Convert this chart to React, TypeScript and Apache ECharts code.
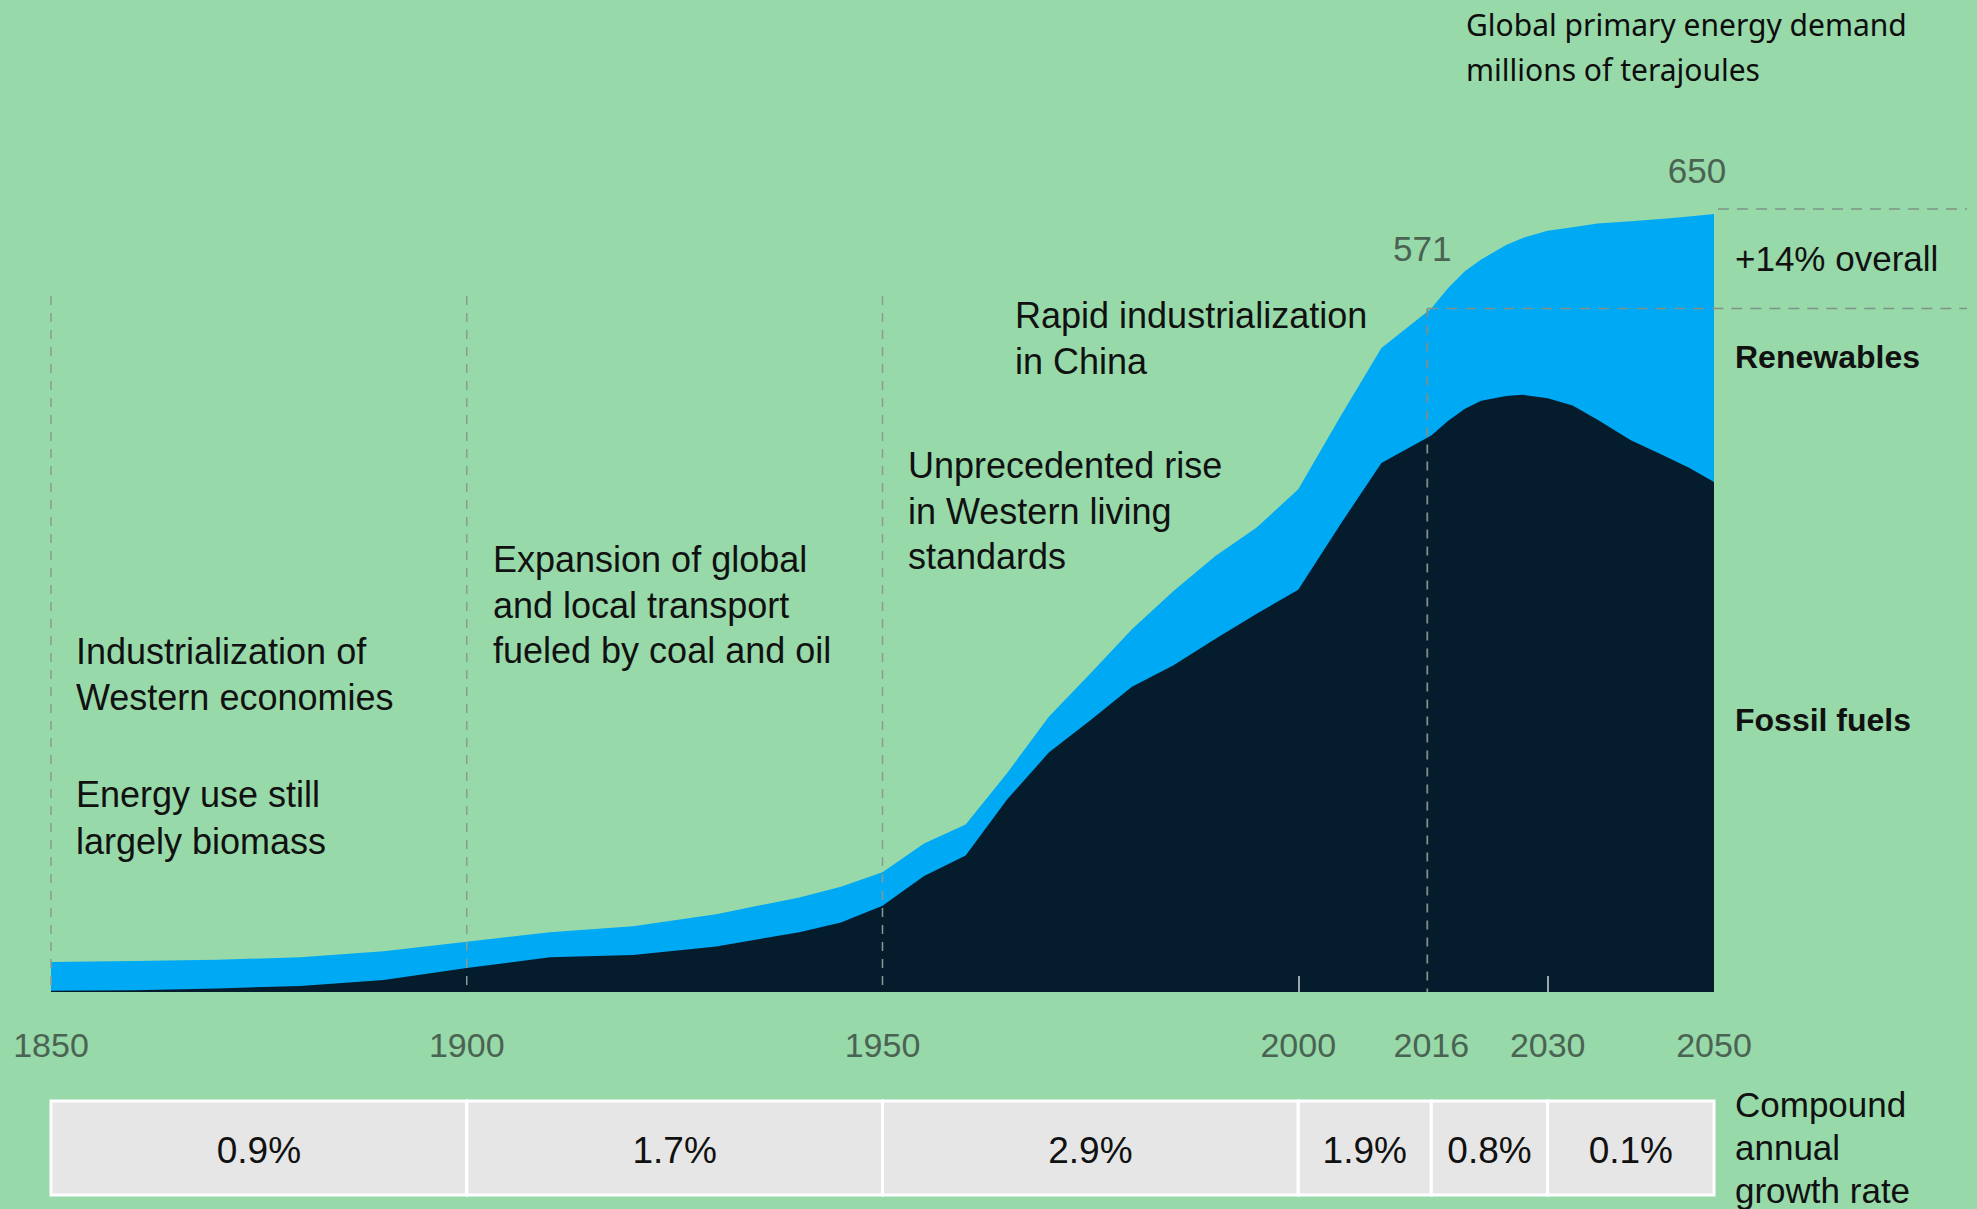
import React, { useEffect, useRef } from "react";
import * as echarts from "echarts";

// ---- data (millions of terajoules) ----
const years = [1850, 1860, 1870, 1880, 1890, 1900, 1910, 1920, 1930, 1940, 1945, 1950, 1955, 1960, 1965, 1970, 1975, 1980, 1985, 1990, 1995, 2000, 2005, 2010, 2016, 2018, 2020, 2022, 2025, 2027, 2030, 2033, 2036, 2040, 2044, 2047, 2050];
const totalDemand = [25, 26, 27, 29, 34, 42, 50, 55, 65, 79, 88, 100, 124, 140, 183, 230, 266, 303, 335, 364, 388, 420, 480, 538, 571, 588, 602, 612, 624, 630, 636, 639, 642, 644, 646, 648, 650];
const fossilFuels = [1, 1.5, 3, 5, 10, 20, 29, 31, 38, 50, 58, 72, 97, 114, 161, 200, 227, 255, 273, 295, 316, 336, 390, 442, 465, 477, 487, 494, 498, 499, 496, 490, 478, 461, 448, 438, 426];

const axisYears = [1850, 1900, 1950, 2000, 2016, 2030, 2050];
const innerTickYears = [2000, 2030];
const eraLineYears = [1850, 1900, 1950];
const periodBounds = [1850, 1900, 1950, 2000, 2016, 2030, 2050];
const growthRates = ["0.9%", "1.7%", "2.9%", "1.9%", "0.8%", "0.1%"];
const markedYears = [2016, 2050];
const markedValues = [571, 650];

const BG = "#97d9a9";
const BLUE = "#00a9f4";
const DARK = "#051c2c";
const AXIS_TXT = "#4a6353";
const TXT = "#111111";
const SANS = "'Liberation Sans', Arial, sans-serif";

export default function App() {
  const ref = useRef<HTMLDivElement>(null);

  useEffect(() => {
    if (!ref.current) return;
    const chart = echarts.init(ref.current, null, { renderer: "svg" });
    chart.setOption({
      animation: false,
      backgroundColor: BG,
      grid: { left: 51, right: 263, top: 214, bottom: 217 },
      xAxis: {
        type: "value",
        min: 1850,
        max: 2050,
        z: 10,
        axisLine: { show: false },
        splitLine: { show: false },
        axisTick: {
          show: true,
          inside: true,
          length: 16,
          customValues: innerTickYears,
          lineStyle: { color: "rgba(255,255,255,0.8)", width: 1.5 },
        },
        axisLabel: {
          customValues: axisYears,
          fontSize: 34,
          fontFamily: SANS,
          color: AXIS_TXT,
          margin: 36,
          formatter: (v: number) => String(v),
        },
      },
      yAxis: { type: "value", min: 0, max: 650, show: false },
      series: [
        {
          name: "Renewables",
          type: "line",
          data: years.map((y, i) => [y, totalDemand[i]]),
          symbol: "none",
          lineStyle: { width: 0 },
          areaStyle: { color: BLUE, opacity: 1 },
          z: 2,
        },
        {
          name: "Fossil fuels",
          type: "line",
          data: years.map((y, i) => [y, fossilFuels[i]]),
          symbol: "none",
          lineStyle: { width: 0 },
          areaStyle: { color: DARK, opacity: 1 },
          z: 3,
        },
      ],
    });

    const px = (x: number, y: number) => chart.convertToPixel({ gridIndex: 0 }, [x, y]) as number[];
    const base = px(1850, 0)[1];
    const graphics: any[] = [];

    // era dashed lines
    eraLineYears.forEach((yr) => {
      const x = px(yr, 0)[0];
      graphics.push({
        type: "line",
        z: 20,
        shape: { x1: x, y1: 296, x2: x, y2: base },
        style: { stroke: "#8a9c90", lineWidth: 1.5, lineDash: [9, 8] },
      });
    });

    // 2016 / 2050 markers
    const p2016 = px(markedYears[0], markedValues[0]);
    const p2050 = px(markedYears[1], markedValues[1]);
    graphics.push({
      type: "line",
      z: 20,
      shape: { x1: p2016[0] - 4, y1: p2016[1], x2: p2016[0] - 4, y2: base },
      style: { stroke: "#7f8e86", lineWidth: 1.8, lineDash: [9, 8] },
    });
    graphics.push({
      type: "line",
      z: 20,
      shape: { x1: p2016[0] - 4, y1: p2016[1], x2: 1967, y2: p2016[1] },
      style: { stroke: "#7f9488", lineWidth: 1.5, lineDash: [11, 8] },
    });
    graphics.push({
      type: "line",
      z: 20,
      shape: { x1: p2050[0] + 4, y1: p2050[1] - 5, x2: 1967, y2: p2050[1] - 5 },
      style: { stroke: "#7f9488", lineWidth: 1.5, lineDash: [11, 8] },
    });
    graphics.push({
      type: "text",
      z: 20,
      style: { text: String(markedValues[0]), x: p2016[0] - 9, y: p2016[1] - 60, fill: AXIS_TXT, fontSize: 35, fontFamily: SANS, textAlign: "center", textVerticalAlign: "middle" },
    });
    graphics.push({
      type: "text",
      z: 20,
      style: { text: String(markedValues[1]), x: p2050[0] - 17, y: p2050[1] - 44, fill: AXIS_TXT, fontSize: 35, fontFamily: SANS, textAlign: "center", textVerticalAlign: "middle" },
    });

    // growth-rate table
    const tTop = 1101;
    const tH = 94;
    for (let i = 0; i < growthRates.length; i++) {
      const x1 = px(periodBounds[i], 0)[0];
      const x2 = px(periodBounds[i + 1], 0)[0];
      graphics.push({
        type: "rect",
        z: 5,
        shape: { x: x1, y: tTop, width: x2 - x1, height: tH },
        style: { fill: "#e6e6e6", stroke: "#ffffff", lineWidth: 3 },
      });
      graphics.push({
        type: "text",
        z: 6,
        style: { text: growthRates[i], x: (x1 + x2) / 2, y: tTop + tH / 2 + 2, fill: TXT, fontSize: 37, fontFamily: SANS, textAlign: "center", textVerticalAlign: "middle" },
      });
    }

    const txt = (text: string, x: number, y: number, size: number, opts: any = {}) => ({
      type: "text",
      z: 20,
      style: {
        text,
        x,
        y,
        fill: TXT,
        fontSize: size,
        fontFamily: SANS,
        lineHeight: opts.lineHeight || Math.round(size * 1.27),
        fontWeight: opts.fontWeight || "normal",
        textAlign: "left",
        textVerticalAlign: "top",
        ...opts.style,
      },
    });

    // title
    graphics.push(txt("Global primary energy demand\nmillions of terajoules", 1466, 2, 30, { lineHeight: 45, style: { fontFamily: "'Noto Sans', sans-serif", fill: "#0d0d0d" } }));

    // right-hand labels
    graphics.push(txt("+14% overall", 1735, 236, 35));
    graphics.push(txt("Renewables", 1735, 336, 32, { fontWeight: "bold" }));
    graphics.push(txt("Fossil fuels", 1735, 699, 32, { fontWeight: "bold" }));
    graphics.push(txt("Compound\nannual\ngrowth rate", 1735, 1083, 35, { lineHeight: 43 }));

    // era annotations
    graphics.push(txt("Industrialization of\nWestern economies", 76, 628, 36, { lineHeight: 46 }));
    graphics.push(txt("Energy use still\nlargely biomass", 76, 771, 36, { lineHeight: 47 }));
    graphics.push(txt("Expansion of global\nand local transport\nfueled by coal and oil", 493, 537, 36, { lineHeight: 45.5 }));
    graphics.push(txt("Unprecedented rise\nin Western living\nstandards", 908, 443, 36, { lineHeight: 45.5 }));
    graphics.push(txt("Rapid industrialization\nin China", 1015, 292, 36, { lineHeight: 46 }));

    chart.setOption({ graphic: graphics });

    return () => chart.dispose();
  }, []);

  return <div ref={ref} style={{ position: "fixed", left: 0, top: 0, width: 1977, height: 1209 }} />;
}
